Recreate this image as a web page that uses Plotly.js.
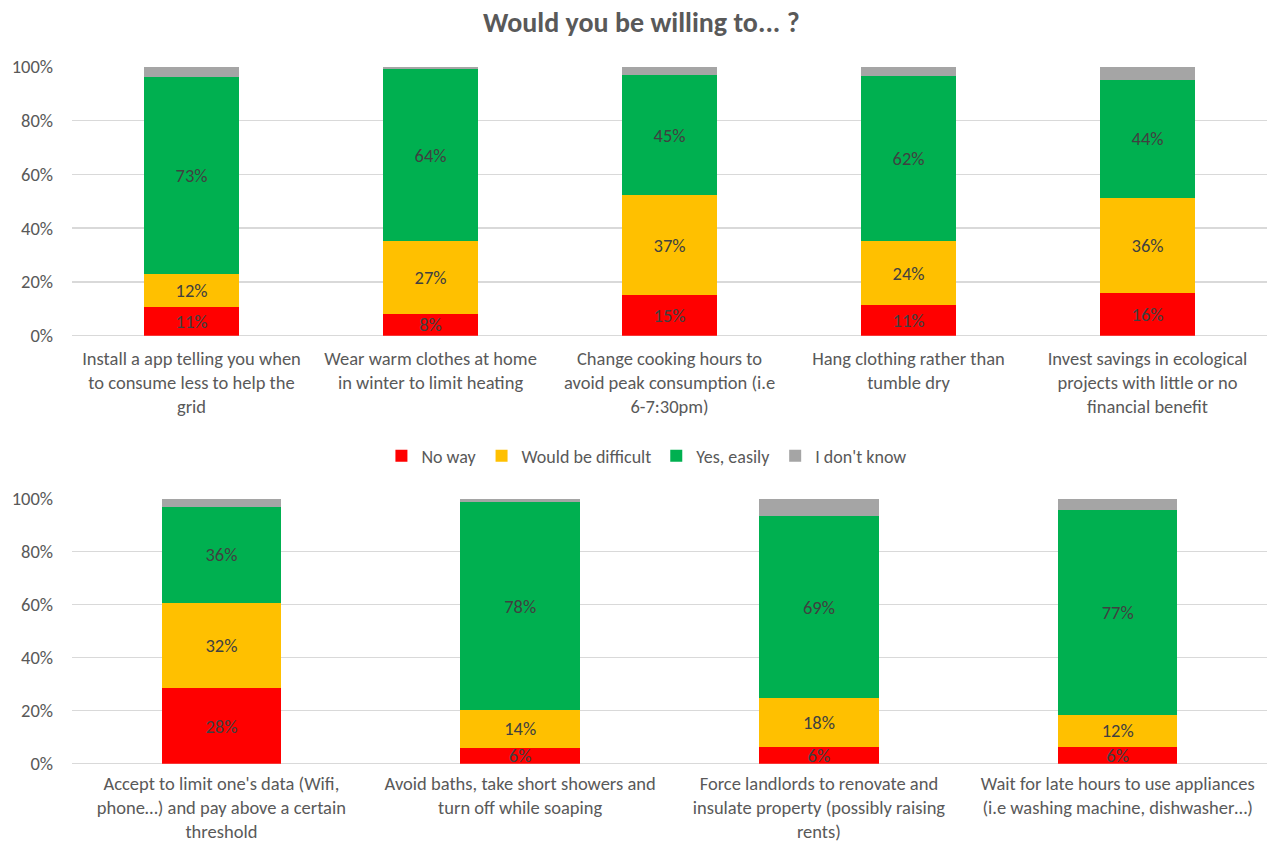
<!DOCTYPE html>
<html>
<head>
<meta charset="utf-8">
<script src="https://cdn.plot.ly/plotly-3.0.1.min.js"></script>
<style>html,body{margin:0;padding:0;background:#fff;}#chart{width:1275px;height:843px;}</style>
</head>
<body>
<div id="chart"></div>
<script>
// ---- data ----
const seriesNames = ["No way", "Would be difficult", "Yes, easily", "I don't know"];
const seriesColors = ["#FF0000", "#FFC000", "#00B050", "#A5A5A5"];

const topCategories = [
  "Install a app telling you when<br>to consume less to help the<br>grid",
  "Wear warm clothes at home<br>in winter to limit heating",
  "Change cooking hours to<br>avoid peak consumption (i.e<br>6-7:30pm)",
  "Hang clothing rather than<br>tumble dry",
  "Invest savings in ecological<br>projects with little or no<br>financial benefit"
];
const topNoWay     = [0.106, 0.082, 0.151, 0.113, 0.157];
const topDifficult = [0.123, 0.269, 0.371, 0.238, 0.356];
const topEasily    = [0.732, 0.640, 0.448, 0.616, 0.437];
const topDontKnow  = [0.039, 0.009, 0.030, 0.033, 0.050];

const bottomCategories = [
  "Accept to limit one's data (Wifi,<br>phone…) and pay above a certain<br>threshold",
  "Avoid baths, take short showers and<br>turn off while soaping",
  "Force landlords to renovate and<br>insulate property (possibly raising<br>rents)",
  "Wait for late hours to use appliances<br>(i.e washing machine, dishwasher…)"
];
const bottomNoWay     = [0.284, 0.060, 0.064, 0.064];
const bottomDifficult = [0.322, 0.143, 0.183, 0.121];
const bottomEasily    = [0.364, 0.784, 0.687, 0.772];
const bottomDontKnow  = [0.030, 0.013, 0.066, 0.043];

const yTickVals = [0, 0.2, 0.4, 0.6, 0.8, 1.0];
const yTickText = ["0%", "20%", "40%", "60%", "80%", "100%"];

// ---- build ----
const FONT = "Carlito, Calibri, Lato, sans-serif";
const FS = 18.5;
const topSeries = [topNoWay, topDifficult, topEasily, topDontKnow];
const bottomSeries = [bottomNoWay, bottomDifficult, bottomEasily, bottomDontKnow];

const traces = [];
function addTraces(cats, series, xa, ya, showLegend) {
  series.forEach((vals, i) => {
    const labelled = i < 3;
    traces.push({
      type: "bar",
      x: cats,
      y: vals,
      name: seriesNames[i],
      legendgroup: seriesNames[i],
      showlegend: showLegend,
      xaxis: xa,
      yaxis: ya,
      marker: {color: seriesColors[i], line: {width: 0}},
      texttemplate: labelled ? "%{y:.0%}" : "",
      textposition: labelled ? "inside" : "none",
      insidetextanchor: "middle",
      textangle: 0,
      constraintext: "none",
      textfont: {family: FONT, size: FS, color: "#404040"},
      hoverinfo: "skip"
    });
  });
}
addTraces(topCategories, topSeries, "x", "y", true);
addTraces(bottomCategories, bottomSeries, "x2", "y2", false);

const xAxisCommon = {
  domain: [72 / 1275, 1267 / 1275],
  type: "category",
  showgrid: false,
  showline: false,
  ticks: "",
  automargin: false,
  ticklabelstandoff: 10,
  tickfont: {family: FONT, size: FS, color: "#595959"},
  fixedrange: true
};
const yAxisCommon = {
  range: [0, 1],
  tickvals: yTickVals,
  ticktext: yTickText,
  showgrid: true,
  gridcolor: "#D9D9D9",
  gridwidth: 1.5,
  zeroline: true,
  zerolinecolor: "#D9D9D9",
  zerolinewidth: 1.5,
  showline: false,
  ticks: "",
  automargin: false,
  ticklabelstandoff: 18,
  tickfont: {family: FONT, size: FS, color: "#595959"},
  fixedrange: true
};

const layout = {
  width: 1275,
  height: 843,
  margin: {l: 0, r: 0, t: 0, b: 0},
  paper_bgcolor: "#FFFFFF",
  plot_bgcolor: "#FFFFFF",
  font: {family: FONT, color: "#595959"},
  title: {
    text: "<b>Would you be willing to... ?</b>",
    font: {family: FONT, size: 28, color: "#595959"},
    x: 0.503, xanchor: "center", y: 1 - 22 / 843, yanchor: "middle"
  },
  barmode: "stack",
  bargap: 0.6,
  xaxis: Object.assign({}, xAxisCommon, {anchor: "y"}),
  yaxis: Object.assign({}, yAxisCommon, {anchor: "x", domain: [1 - 335.7 / 843, 1 - 66.7 / 843]}),
  xaxis2: Object.assign({}, xAxisCommon, {anchor: "y2", ticklabelstandoff: 7}),
  yaxis2: Object.assign({}, yAxisCommon, {anchor: "x2", domain: [1 - 763.7 / 843, 1 - 498.7 / 843]}),
  showlegend: true,
  legend: {
    orientation: "h",
    x: 0.507, xanchor: "center",
    y: 1 - 456 / 843, yanchor: "middle",
    font: {family: FONT, size: 18, color: "#595959"},
    traceorder: "normal",
    itemclick: false, itemdoubleclick: false
  }
};

Plotly.newPlot("chart", traces, layout, {displayModeBar: false, staticPlot: true});
</script>
</body>
</html>
